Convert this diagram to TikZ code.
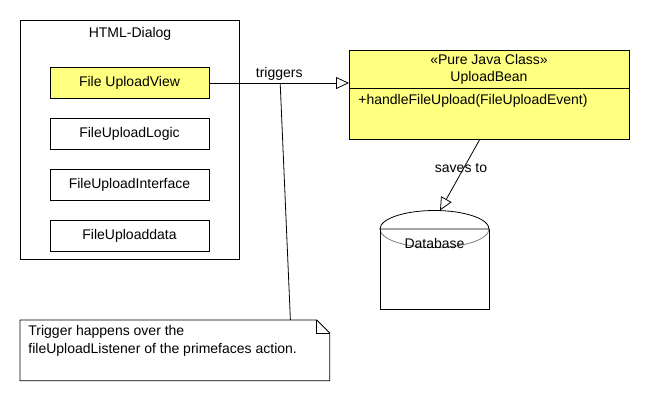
\documentclass[tikz,border=0pt]{standalone}
\usepackage{fontspec}
\setmainfont{Liberation Sans}
\usetikzlibrary{arrows.meta,positioning}
\definecolor{umlyellow}{RGB}{255,255,128}
\definecolor{umlgray}{RGB}{128,128,128}

\begin{document}
\begin{tikzpicture}[x=1pt,y=-1pt,line width=0.8pt,
  font=\fontsize{14}{17}\selectfont,
  comp/.style={rectangle,draw,minimum width=159pt,minimum height=31pt,inner sep=0pt},
  part/.style={rectangle,draw,fill=umlyellow,minimum width=280pt,inner sep=0pt,outer sep=0pt,align=center},
  rel/.style={-{Triangle[open,length=13pt,width=12pt]}}]
\path[use as bounding box,fill=white] (0,0) rectangle (650,400);

% html dialog
\node[draw,minimum width=219pt,minimum height=239pt,anchor=north west] (dialog) at (20,20) {};
\node (dialogtitle) at (130,34) {HTML-Dialog};
\node[comp,fill=umlyellow] (view) at (129.5,83) {File UploadView};
\node[comp,below=19pt of view] (logic) {FileUploadLogic};
\node[comp,below=19pt of logic] (iface) {FileUploadInterface};
\node[comp,below=19pt of iface] (data) {FileUploaddata};

% class
\node[part,minimum height=38pt,anchor=north west] (beanname) at (349,50) {«Pure Java Class»\\UploadBean};
\node[part,minimum height=51pt,below=0pt of beanname] (beanops) {};
\node[anchor=west,inner sep=0pt] (beanop) at ([shift={(9pt,-13pt)}]beanops.north west) {+handleFileUpload(FileUploadEvent)};

% database
\draw (380,229) arc[start angle=180,end angle=0,x radius=54.5pt,y radius=18.5pt] -- cycle;
\draw[umlgray] (380,229) arc[start angle=180,end angle=360,x radius=54.5pt,y radius=18.5pt];
\draw (380,229) -- (380,309) -- (489,309) -- (489,229);
\node (db) at (434.5,243) {Database};
\coordinate (dbtop) at (440,210.5);

% connectors
\draw[rel] (view.east) -- node[above,inner sep=2pt] (trigtext) {triggers}
  coordinate[pos=0.507] (trigpt) (view.east -| beanname.west);
\draw[rel] ([xshift=-9pt]beanops.south) -- node[pos=0.4,xshift=-3pt] (savetext) {saves to} (dbtop);

% note
\node[anchor=north west,minimum width=309pt,minimum height=60pt,inner sep=0pt] (note) at (20,320) {};
\draw (note.north west) -- ([xshift=-13pt]note.north east) -- ([yshift=-13pt]note.north east)
  -- (note.south east) -- (note.south west) -- cycle;
\draw ([xshift=-13pt]note.north east) |- ([yshift=-13pt]note.north east);
\node[anchor=north west,align=left,inner sep=0pt,font=\fontsize{14}{18}\selectfont] (notetext)
  at ([shift={(8pt,-5pt)}]note.north west) {Trigger happens over the\\fileUploadListener of the primefaces action.};
\draw (trigpt) -- ([xshift=115.5pt]note.north);
\end{tikzpicture}
\end{document}
